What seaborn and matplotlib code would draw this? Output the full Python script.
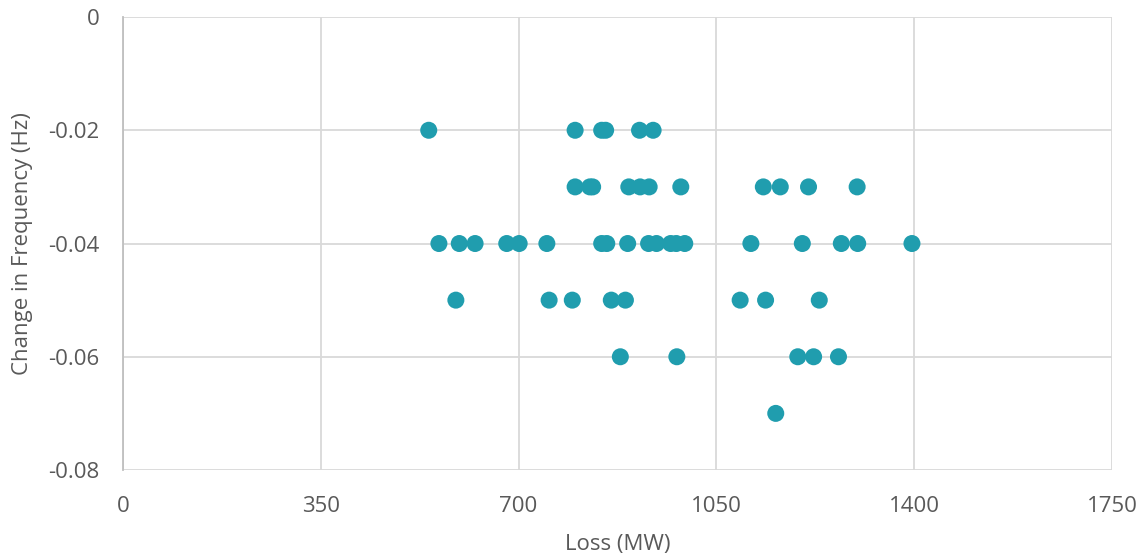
"""Scatter of frequency change against generation loss."""

import matplotlib
matplotlib.use('Agg')
import matplotlib.pyplot as plt
import seaborn as sns
import pandas as pd

# Loss (MW) and frequency change (Hz) for each event
loss_mw = [
    541, 800, 847, 854, 914, 938,
    800, 826, 831, 895, 915, 931, 987, 1133, 1163, 1213, 1299,
    559, 595, 623, 679, 701, 750, 847, 856, 893, 930, 944, 969, 979, 994,
    1111, 1202, 1271, 1300, 1396,
    589, 754, 795, 864, 889, 1092, 1137, 1232,
    880, 980, 1194, 1222, 1266,
    1155,
]
delta_hz = (
    [-0.02] * 6
    + [-0.03] * 11
    + [-0.04] * 19
    + [-0.05] * 8
    + [-0.06] * 5
    + [-0.07] * 1
)

x_ticks = [0, 350, 700, 1050, 1400, 1750]
y_ticks = [0, -0.02, -0.04, -0.06, -0.08]
y_labels = ['0', '-0.02', '-0.04', '-0.06', '-0.08']

df = pd.DataFrame({'Loss (MW)': loss_mw, 'Change in Frequency (Hz)': delta_hz})

sns.set_style('white')
plt.rcParams['font.family'] = ['Open Sans', 'DejaVu Sans']

fig = plt.figure(figsize=(11.43, 5.6), dpi=100)
ax = fig.add_axes([0.1076, 0.1607, 0.8653, 0.8089])

sns.scatterplot(data=df, x='Loss (MW)', y='Change in Frequency (Hz)', ax=ax,
                color='#209DAE', s=150, edgecolor='none', zorder=3)

ax.set_xlim(0, 1750)
ax.set_ylim(-0.08, 0)
ax.set_xticks(x_ticks)
ax.set_yticks(y_ticks)
ax.set_yticklabels(y_labels)
ax.grid(True, color='#D9D9D9', linewidth=1.3, zorder=0)
ax.set_axisbelow(True)

for side in ['top', 'right', 'bottom']:
    ax.spines[side].set_visible(False)
ax.spines['left'].set_color('#BFBFBF')
ax.spines['left'].set_linewidth(1.3)

ax.tick_params(axis='x', length=0, labelsize=16, labelcolor='#595959', pad=19)
ax.tick_params(axis='y', length=0, labelsize=16, labelcolor='#595959', pad=17)
ax.set_xlabel('Loss (MW)', fontsize=16, color='#595959', labelpad=12)
ax.set_ylabel('Change in Frequency (Hz)', fontsize=16, color='#595959', labelpad=11)

plt.savefig('out.png', dpi=100)
plt.close()
